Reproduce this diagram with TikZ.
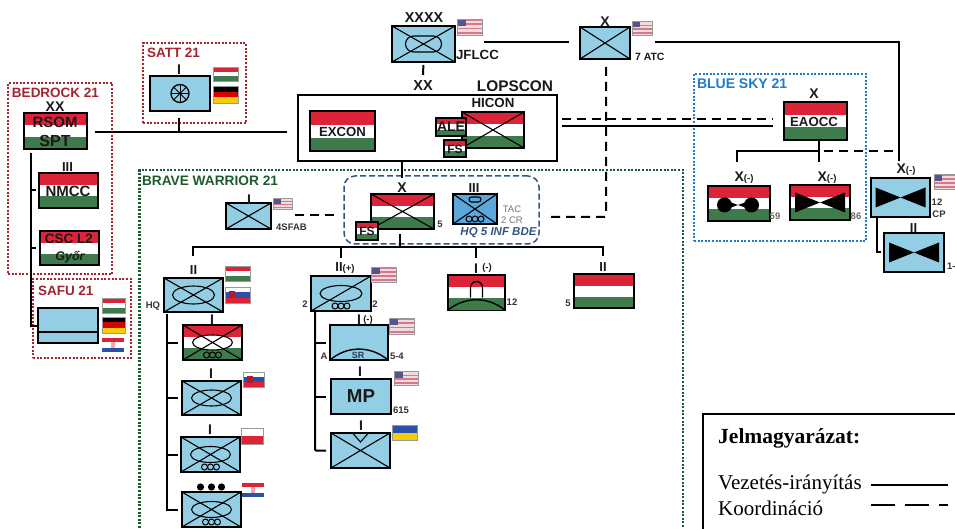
\documentclass[tikz,border=0pt]{standalone}
\usepackage{fontspec}
\usepackage{tikz}
\usetikzlibrary{calc}
\setmainfont{Liberation Sans}
\newfontfamily\legendfont{Liberation Serif}

\definecolor{unitblue}{HTML}{93CEE4}
\definecolor{tacblue}{HTML}{5BA6DA}
\definecolor{hured}{HTML}{DC2338}
\definecolor{hugreen}{HTML}{3F7A4C}
\definecolor{satred}{HTML}{A3242F}
\definecolor{bravegreen}{HTML}{1F5A2E}
\definecolor{skyblue}{HTML}{1F7CCB}
\definecolor{hqblue}{HTML}{34557F}
\definecolor{flagblue}{HTML}{2C4FA8}
\definecolor{flagyellow}{HTML}{F5CE0B}
\definecolor{usred}{HTML}{D9778A}
\definecolor{uspale}{HTML}{EFDCDF}
\definecolor{uscanton}{HTML}{54548F}

\newcommand\flagstrip[3]{\fill[#1] ($(path picture bounding box.north west)!#2!(path picture bounding box.south west)$) rectangle ($(path picture bounding box.north east)!#3!(path picture bounding box.south east)$);}
\newcommand\xout[1]{\draw[thinink] (#1.north west) -- (#1.south east) (#1.south west) -- (#1.north east);}
\newcommand\armor[3]{\draw[thinink] (#1.center) ellipse [x radius=#2pt, y radius=#3pt];}
\newcommand\treads[1]{\foreach \i in {-6,0,6} \draw[thinink,line width=1pt] (#1.south) ++(\i,-5) circle [radius=3pt];}
\newcommand\butterfly[3]{\fill (#1) -- ++(-#2,-#3) -- ++(0,2*#3) -- cycle (#1) -- ++(#2,-#3) -- ++(0,2*#3) -- cycle;}

\tikzset{
    box/.style 2 args={rectangle, draw=black, line width=1.4pt, inner sep=0, outer sep=0, minimum width=#1, minimum height=#2},
    unit/.style={fill=unitblue},
    tricolor/.style n args={3}{path picture={\flagstrip{#1}{0}{.34}\flagstrip{#2}{.34}{.67}\flagstrip{#3}{.67}{1}}},
    hu/.style={tricolor={hured}{white}{hugreen}},
    flag/.style={draw=gray!80, line width=.8pt},
    deflag/.style={tricolor={black}{red!85!black}{flagyellow}},
    skflag/.style={path picture={\flagstrip{white}{0}{.34}\flagstrip{flagblue}{.34}{.67}\flagstrip{hured}{.67}{1}
        \fill[hured!80!black] (path picture bounding box.west) ++(4,-4) rectangle ++(6,7);}},
    hrflag/.style={draw=none, path picture={\flagstrip{hured}{0}{.3}\flagstrip{white}{.3}{.7}\flagstrip{flagblue}{.7}{1}
        \fill[hured!40!white] (path picture bounding box.center) ++(-2,-3) rectangle ++(4,6);}},
    plflag/.style={path picture={\flagstrip{white}{0}{.5}\flagstrip{hured}{.5}{1}}},
    uaflag/.style={path picture={\flagstrip{flagblue}{0}{.5}\flagstrip{flagyellow}{.5}{1}}},
    usflag/.style={flag, fill=uspale, path picture={
        \foreach \i/\j in {0/.8,2/2.8,4/4.8,6/6.8} {\flagstrip{usred}{\i/7.5}{\j/7.5}}
        \fill[uscanton] (path picture bounding box.north west) rectangle ($(path picture bounding box.north west)!.5!(path picture bounding box.center)+(3,3)$);}},
    tag/.style={font=\bfseries\fontsize{#1}{#1}\selectfont, inner sep=0, outer sep=0, text=black!90},
    tag/.default=13.5,
    small/.style={tag=9.5, text=black!80},
    cmd/.style={line width=2pt, draw=black},
    coord/.style={line width=2pt, draw=black, dash pattern=on 9pt off 6pt},
    thinink/.style={line width=1.1pt, draw=black},
    dotbox/.style={rectangle, inner sep=0, outer sep=0, line width=2.2pt, dash pattern=on 2pt off 1.6pt}
}

\begin{document}
\begin{tikzpicture}[x=1pt,y=-1pt]
    \path[use as bounding box,clip] (0,0) rectangle (955,529);

    \node[dotbox, draw=satred, minimum width=103, minimum height=80] (sattbox) at (194.5,83) {};
    \node[dotbox, draw=satred, minimum width=104, minimum height=191] (bedrockbox) at (60,178.5) {};
    \node[dotbox, draw=satred, minimum width=98, minimum height=79] (safubox) at (82,318.5) {};
    \node[dotbox, draw=skyblue, minimum width=172, minimum height=167] (skybox) at (780,157.5) {};
    \node[dotbox, draw=bravegreen, minimum width=543.5, minimum height=375] (bravebox) at (411.25,357.5) {};
    \node[rectangle, draw=hqblue, line width=1.5pt, dash pattern=on 6pt off 3pt, rounded corners=11pt, minimum width=195, minimum height=68] (hqbox) at (441.5,210) {};

    \node[tag, text=satred, anchor=west] (sattname) at (147,53) {SATT 21};
    \node[tag, text=satred, anchor=west] (bedrockname) at (12,93) {BEDROCK 21};
    \node[tag, text=satred, anchor=west] (safuname) at (38,291) {SAFU 21};
    \node[tag=14, text=skyblue, anchor=west] (skyname) at (697,84) {BLUE SKY 21};
    \node[tag=13.7, text=bravegreen, anchor=west] (bravename) at (142,181) {BRAVE WARRIOR 21};

    \node[box={63}{36}, unit] (jflcc) at (423.5,44) {};
    \node[box={50}{32}, unit] (atc) at (605,43) {};
    \node[box={259}{66}, fill=white] (lopscon) at (427.5,128) {};
    \node[box={62}{36}, hu] (hicon) at (493,130) {};
    \node[box={65}{40}, hu] (excon) at (342.5,131) {};
    \node[box={63}{35}, hu] (fivebde) at (402.5,211.5) {};
    \node[box={44}{30}, fill=tacblue] (tac) at (475,209) {};
    \node[box={63}{38}, hu] (eaocc) at (815.5,121) {};
    \node[box={62}{35}, hu] (ada) at (739,203.5) {};
    \node[box={60}{35}, hu] (adb) at (820,202.5) {};
    \node[box={59}{39}, unit] (cp) at (900.5,197.5) {};
    \node[box={60}{39}, unit] (subcp) at (914,252.5) {};
    \node[box={60}{35}, unit] (sattunit) at (180,93.5) {};
    \node[box={63}{36}, hu] (rsom) at (55.5,131) {};
    \node[box={59}{35}, hu] (nmcc) at (68.5,190.5) {};
    \node[box={59}{34}, hu] (csc) at (69.5,248) {};
    \node[box={60}{35}, unit] (safuunit) at (68,325.5) {};
    \node[box={45}{26}, unit] (sfab) at (248.5,216) {};
    \node[box={59}{34}, unit] (hqbn) at (193.5,295) {};
    \node[box={59}{35}, hu] (hubn) at (212.5,342.5) {};
    \node[box={59}{34}, unit] (skbn) at (211.5,398) {};
    \node[box={59}{35}, unit] (plbn) at (210.5,454.5) {};
    \node[box={59}{35}, unit] (hrbn) at (211.5,509.5) {};
    \node[box={60}{35}, unit] (plusbn) at (341,293.5) {};
    \node[box={58}{35}, unit] (srco) at (359,342.5) {};
    \node[box={60}{35}, unit] (mpco) at (361,396.5) {};
    \node[box={59}{35}, unit] (uaco) at (360.5,450.5) {};
    \node[box={57}{35}, hu] (archbn) at (476.5,292.5) {};
    \node[box={60}{34}, hu] (fivebn) at (604,291) {};

    \xout{jflcc}
    \draw[thinink, rounded corners=8pt] (jflcc.center) ++(-18,-8) rectangle ++(36,16);
    \xout{atc}
    \xout{hicon}
    \xout{fivebde}
    \xout{tac}
    \draw[thinink, rounded corners=2.5pt] (tac.north) ++(-6,3) rectangle ++(12,5);
    \treads{tac}
    \xout{sfab}
    \draw[thinink, line width=1.3pt] (sattunit.center) circle [radius=9pt];
    \foreach \a in {0,45,...,315} \draw[thinink, line width=.9pt] (sattunit.center) -- ++(\a:9pt);
    \draw[thinink] (safuunit.west) ++(0,6.5) -- ++(60,0);
    \xout{hqbn}
    \armor{hqbn}{21}{9}
    \draw[thinink, fill=white] (hubn.center) ellipse [x radius=20pt, y radius=7.5pt];
    \xout{hubn}
    \treads{hubn}
    \xout{skbn}
    \armor{skbn}{20}{8}
    \xout{plbn}
    \armor{plbn}{20}{8}
    \treads{plbn}
    \xout{hrbn}
    \armor{hrbn}{20}{8}
    \treads{hrbn}
    \foreach \i in {-11,0,10} \fill (hrbn.north) ++(\i,-5) circle [radius=3.6pt];
    \draw[thinink] (plusbn.south west) -- (plusbn.north east);
    \armor{plusbn}{21}{8}
    \treads{plusbn}
    \draw[thinink, line width=1.4pt] (srco.south west) to[bend left=40] (srco.south east);
    \xout{uaco}
    \draw[thinink] (uaco.north) ++(-8,0) -- ++(8,9) -- ++(8,-9);
    \fill[hugreen] (archbn.south west) to[bend left=38] (archbn.south east) -- cycle;
    \draw[thinink, line width=1.4pt] (archbn.south west) to[bend left=38] (archbn.south east);
    \draw[thinink, line width=1.4pt] (archbn.center) ++(-6,5) -- ++(0,-10) arc[start angle=180, end angle=0, radius=6pt] -- ++(0,10);
    \butterfly{cp.center}{25}{10}
    \butterfly{subcp.center}{25}{10}
    \butterfly{adb.center}{25}{10}
    \coordinate (adacenter) at ($(ada.center)+(-1,1.5)$);
    \butterfly{adacenter}{14}{5}
    \fill (adacenter) ++(-13.5,0) circle [radius=7.5pt] (adacenter) ++(13.5,0) circle [radius=7.5pt];

    \node[box={30}{18}, hu] (ale) at (451,127) {};
    \node[box={22}{17}, hu] (fsa) at (455,148.5) {};
    \node[box={22}{18}, hu] (fsb) at (367,231) {};

    \node[tag=14.4] (jflccrank) at (424,18) {XXXX};
    \node[tag=13.3, anchor=west] (jflccname) at (456,55) {JFLCC};
    \node[tag=14] (atcrank) at (605,22) {X};
    \node[tag=10.5, anchor=west] (atcname) at (635,57) {7 ATC};
    \node[tag=14.5] (lopsrank) at (423,86) {XX};
    \node[tag=15.4] (lopsname) at (515,86) {LOPSCON};
    \node[tag=13.3] (hiconname) at (493,103) {HICON};
    \node[tag=14] (alename) at (451,127) {ALE};
    \node[tag=12] (fsaname) at (455,149) {FS};
    \node[tag=13.2] (exconname) at (342.5,132) {EXCON};
    \node[tag=14] (fivebderank) at (402,188) {X};
    \node[tag=12] (fsbname) at (367,231) {FS};
    \node[small] (fivebdename) at (440,224) {5};
    \node[tag=13] (tacrank) at (474,188) {III};
    \node[tag=9.5, text=black!55, font=\fontsize{9.5}{9.5}\selectfont] (tacname) at (512,209) {TAC};
    \node[tag=9.5, text=black!55, font=\fontsize{9.5}{9.5}\selectfont] (tacregt) at (512,220) {2 CR};
    \node[tag=11.5, text=hqblue, font=\bfseries\itshape\fontsize{11.5}{11.5}\selectfont] (hqname) at (498.5,233) {HQ 5 INF BDE};
    \node[tag=14] (eaoccrank) at (814,94) {X};
    \node[tag=13.2] (eaoccname) at (814,122) {EAOCC};
    \node[tag=14] (adarank) at (744,178) {X{\fontsize{9.5}{9.5}\selectfont(-)}};
    \node[small, text=black!60] (adaname) at (775,216) {59};
    \node[tag=14] (adbrank) at (827,178) {X{\fontsize{9.5}{9.5}\selectfont(-)}};
    \node[small, text=black!60] (adbname) at (856,216) {86};
    \node[tag=14] (cprank) at (906,170) {X{\fontsize{9.5}{9.5}\selectfont(-)}};
    \node[small] (cpnum) at (937,202) {12};
    \node[small] (cpname) at (939,214) {CP};
    \node[tag=13] (subcprank) at (913.5,228) {II};
    \node[small, anchor=west] (subcpname) at (947,266) {1-};
    \node[tag=14] (sattrank) at (179,69.5) {I};
    \node[tag=14] (rsomrank) at (55,107) {XX};
    \node[tag=15] (rsomname) at (55,122) {RSOM};
    \node[tag=16] (sptname) at (55,141) {SPT};
    \node[tag=13] (nmccrank) at (67.5,167) {III};
    \node[tag=15] (nmccname) at (68,191) {NMCC};
    \node[tag=13.5] (cscname) at (69,239) {CSC L2};
    \node[tag=12.5, font=\bfseries\itshape\fontsize{12.5}{12.5}\selectfont] (cscsite) at (70,257) {Győr};
    \node[tag=14] (sfabrank) at (249,199.5) {I};
    \node[small] (sfabname) at (291.5,227) {4SFAB};
    \node[tag=13] (hqrank) at (193.5,270) {II};
    \node[small] (hqnote) at (153,306) {HQ};
    \node[tag=14] (hurank) at (212,320) {I};
    \node[tag=14] (skrank) at (211,374) {I};
    \node[tag=14] (plrank) at (210,430) {I};
    \node[tag=13] (plusrank) at (345,268) {II{\fontsize{9.5}{9.5}\selectfont(+)}};
    \node[small] (plusleft) at (305,304) {2};
    \node[small] (plusright) at (375,304) {2};
    \node[tag=14] (srrank) at (359,320) {I};
    \node[tag=9.5] (srminus) at (368,320) {(-)};
    \node[tag=9, text=hqblue!70!black] (srname) at (358,355) {SR};
    \node[small] (srleft) at (324,356) {A};
    \node[small, anchor=west] (srright) at (390,356) {5-4};
    \node[tag=14] (mprank) at (360,372) {I};
    \node[tag=18.7] (mpname) at (361,396) {MP};
    \node[small, anchor=west] (mpnum) at (393,410) {615};
    \node[tag=14] (uarank) at (361,426) {I};
    \node[tag=14] (archrank) at (476,269) {I};
    \node[tag=9.5] (archminus) at (487,268) {(-)};
    \node[small] (archname) at (512,302) {12};
    \node[tag=13] (fivebnrank) at (603,267) {II};
    \node[small] (fivebnname) at (568,303) {5};

    \node[box={25}{16}, usflag] (jflccflag) at (469.5,27) {};
    \node[box={20}{14}, usflag] (atcflag) at (642,28) {};
    \node[box={19}{11}, usflag] (sfabflag) at (282.5,203.5) {};
    \node[box={21}{15}, usflag] (cpflag) at (944.5,181.5) {};
    \node[box={25}{14}, flag, hu] (satthu) at (225.5,74) {};
    \node[box={25}{17}, flag, deflag] (sattde) at (225.5,94.5) {};
    \node[box={23}{15}, flag, hu] (safuhu) at (113.5,305.5) {};
    \node[box={23}{16}, flag, deflag] (safude) at (113.5,325) {};
    \node[box={22}{14}, hrflag] (safuhr) at (113,345) {};
    \node[box={25}{15}, flag, hu] (hqhu) at (237.5,273.5) {};
    \node[box={25}{16}, flag, skflag] (hqsk) at (237.5,295) {};
    \node[box={21}{15}, flag, skflag] (skflagbn) at (253.5,379.5) {};
    \node[box={22}{16}, flag, plflag] (plflagbn) at (252,436) {};
    \node[box={22}{14}, hrflag] (hrflagbn) at (253,490) {};
    \node[box={25}{15}, usflag] (plusflag) at (383.5,274.5) {};
    \node[box={25}{16}, usflag] (srflag) at (401.5,326) {};
    \node[box={24}{14}, usflag] (mpflag) at (406,378) {};
    \node[box={25}{15}, flag, uaflag] (uaflagco) at (404.5,432.5) {};

    \coordinate (jflcctail) at (423,75);
    \draw[cmd, shorten <=3pt] (jflcc.south) -- (jflcctail);
    \coordinate (jflccright) at (484,42);
    \coordinate (atcleft) at (569,42);
    \draw[cmd] (jflccright) -- (atcleft);
    \coordinate (atcright) at (655,42);
    \coordinate (cpcorner) at (899,42);
    \coordinate (cptop) at (899,161);
    \draw[cmd] (atcright) -- (cpcorner) -- (cptop);
    \coordinate (atcdash) at (606,67);
    \coordinate (atcbend) at (606,217);
    \coordinate (hqdash) at (549,217);
    \draw[coord, rounded corners=2pt] (atcdash) -- (atcbend) -- (hqdash);
    \coordinate (lopsa) at (562,126);
    \coordinate (eaa) at (773,126);
    \draw[cmd] (lopsa) -- (eaa);
    \coordinate (lopsb) at (562,119);
    \coordinate (eab) at (773,119);
    \draw[coord] (lopsb) -- (eab);
    \coordinate (lopstail) at (402,178);
    \draw[cmd] (lopstail |- lopscon.south) -- (lopstail);
    \coordinate (rsombus) at (95,132);
    \coordinate (lopsbus) at (287,132);
    \draw[cmd] (rsombus) -- (lopsbus);
    \coordinate (sattstem) at (179,118);
    \draw[cmd] (sattstem) -- (sattstem |- rsombus);
    \coordinate (rsomtrunk) at (30.5,153);
    \draw[cmd] (rsomtrunk) |- (safuunit.west);
    \draw[cmd, shorten >=3pt] (rsomtrunk |- nmcc.west) -- (nmcc.west);
    \draw[cmd, shorten >=4pt] (rsomtrunk |- csc.west) -- (csc.west);
    \coordinate (sfabdash) at (295,215);
    \coordinate (hqleft) at (335,215);
    \draw[coord] (sfabdash) -- (hqleft);
    \coordinate (busleft) at (193,247);
    \coordinate (busright) at (603,247);
    \coordinate (hqtop) at (193,256);
    \coordinate (fivetop) at (603,256);
    \draw[cmd] (hqtop) -- (busleft) -- (busright) -- (fivetop);
    \coordinate (bdetail) at (400,234);
    \draw[cmd] (bdetail) -- (bdetail |- busleft);
    \coordinate (plustop) at (341,258);
    \draw[cmd] (plustop) -- (plustop |- busleft);
    \coordinate (archtop) at (476,258);
    \draw[cmd] (archtop) -- (archtop |- busleft);
    \coordinate (eaoccbus) at (819,151);
    \coordinate (adatop) at (737,162);
    \coordinate (adbtop) at (819,162);
    \draw[cmd] (eaoccbus |- eaocc.south) -- (adbtop);
    \draw[cmd] (eaoccbus) -| (adatop);
    \coordinate (eaoccdash) at (824,151);
    \coordinate (cpdash) at (897,151);
    \draw[coord] (eaoccdash) -- (cpdash);
    \coordinate (cptrunk) at (877,217);
    \draw[cmd] (cptrunk) |- ([xshift=-3pt]subcp.west);
    \coordinate (hqtrunk) at (167,314);
    \draw[cmd] (hqtrunk) |- ([xshift=-4pt]hrbn.west);
    \draw[cmd, shorten >=5pt] (hqtrunk |- hubn.west) -- (hubn.west);
    \draw[cmd, shorten >=4pt] (hqtrunk |- skbn.west) -- (skbn.west);
    \draw[cmd, shorten >=3pt] (hqtrunk |- plbn.west) -- (plbn.west);
    \coordinate (plustrunk) at (315,311);
    \draw[cmd, rounded corners=1pt] (plustrunk) |- ([xshift=-5pt]uaco.west);
    \draw[cmd, shorten >=4pt] (plustrunk |- srco.west) -- (srco.west);
    \draw[cmd, shorten >=5pt] (plustrunk |- mpco.west) -- (mpco.west);

    \node[rectangle, draw=black, line width=1.5pt, minimum width=280, minimum height=140, anchor=north west] (legendbox) at (702,413) {};
    \node[font=\legendfont\bfseries\fontsize{21.5}{21.5}\selectfont, inner sep=0, anchor=west] (legendname) at (718,438) {Jelmagyarázat:};
    \node[font=\legendfont\fontsize{21}{21}\selectfont, inner sep=0, anchor=west] (legendcmd) at (718,484) {Vezetés-irányítás};
    \node[font=\legendfont\fontsize{21}{21}\selectfont, inner sep=0, anchor=west] (legendcoord) at (718,508) {Koordináció};
    \coordinate (cmdstart) at (871,485);
    \coordinate (cmdend) at (948,485);
    \draw[line width=2.6pt] (cmdstart) -- (cmdend);
    \coordinate (coordstart) at (871,505);
    \coordinate (coordend) at (948,505);
    \draw[line width=2.6pt, dash pattern=on 24pt off 10pt] (coordstart) -- (coordend);
\end{tikzpicture}
\end{document}
